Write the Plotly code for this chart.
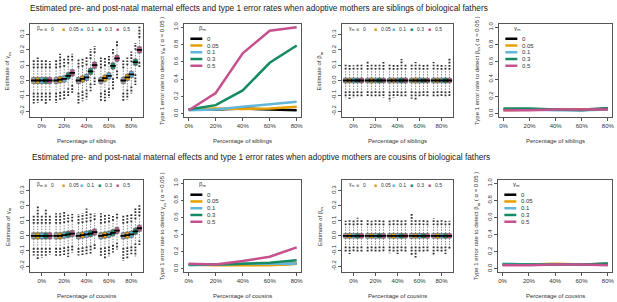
import plotly.graph_objects as go

W, H = 617, 302

groups = ["0%", "20%", "40%", "60%", "80%"]
levels = ["0", "0.05", "0.1", "0.3", "0.5"]
box_colors = ["#A5A5A5", "#E69F00", "#62B6DA", "#158A63", "#C5528F"]
line_colors = ["#000000", "#E69F00", "#62B6DA", "#158A63", "#C5528F"]

# ---------- Box-plot summaries: rows = series (beta/gamma level), cols = groups ----------
# Siblings, estimate of gamma_m
sib_g_med = [[0.000, 0.000, 0.000, 0.000, 0.000],
             [0.000, 0.005, 0.010, 0.015, 0.020],
             [0.000, 0.010, 0.020, 0.030, 0.040],
             [0.000, 0.030, 0.060, 0.095, 0.120],
             [0.000, 0.050, 0.100, 0.145, 0.200]]
sib_g_q1 = [[-0.020, -0.020, -0.020, -0.020, -0.020],
            [-0.020, -0.015, -0.010, -0.005, 0.000],
            [-0.020, -0.010, 0.000, 0.010, 0.020],
            [-0.020, 0.010, 0.040, 0.075, 0.100],
            [-0.020, 0.030, 0.080, 0.125, 0.180]]
sib_g_q3 = [[0.020, 0.020, 0.020, 0.020, 0.020],
            [0.020, 0.025, 0.030, 0.035, 0.040],
            [0.020, 0.030, 0.040, 0.050, 0.060],
            [0.020, 0.050, 0.080, 0.115, 0.140],
            [0.020, 0.070, 0.120, 0.165, 0.220]]
sib_g_whi = [[0.080, 0.080, 0.085, 0.080, 0.080],
             [0.080, 0.085, 0.090, 0.095, 0.100],
             [0.080, 0.090, 0.100, 0.110, 0.120],
             [0.080, 0.110, 0.140, 0.175, 0.200],
             [0.080, 0.130, 0.180, 0.225, 0.280]]
sib_g_wlo = [[-0.080, -0.080, -0.080, -0.080, -0.080],
             [-0.080, -0.075, -0.070, -0.065, -0.060],
             [-0.080, -0.070, -0.060, -0.050, -0.040],
             [-0.080, -0.050, -0.020, 0.015, 0.040],
             [-0.080, -0.030, 0.020, 0.065, 0.120]]
sib_g_ohi = [[0.135, 0.140, 0.145, 0.150, 0.130],
             [0.150, 0.175, 0.145, 0.150, 0.150],
             [0.140, 0.150, 0.155, 0.160, 0.190],
             [0.135, 0.170, 0.205, 0.210, 0.245],
             [0.125, 0.175, 0.225, 0.265, 0.355]]
sib_g_olo = [[-0.150, -0.145, -0.150, -0.140, -0.140],
             [-0.145, -0.135, -0.135, -0.135, -0.125],
             [-0.135, -0.125, -0.125, -0.115, -0.085],
             [-0.160, -0.110, -0.070, -0.060, -0.030],
             [-0.130, -0.080, -0.030, 0.010, 0.085]]

# Siblings, estimate of beta_m
sib_b_med = [[0.000, 0.000, 0.000, 0.000, 0.000],
             [0.000, 0.000, 0.000, 0.000, 0.000],
             [0.000, 0.000, 0.000, 0.000, 0.000],
             [0.000, 0.000, 0.000, 0.000, 0.000],
             [0.000, 0.000, 0.000, 0.000, 0.000]]
sib_b_q1 = [[-0.016, -0.015, -0.016, -0.015, -0.016],
            [-0.015, -0.016, -0.015, -0.016, -0.015],
            [-0.016, -0.015, -0.015, -0.016, -0.015],
            [-0.015, -0.016, -0.016, -0.015, -0.016],
            [-0.016, -0.015, -0.016, -0.015, -0.015]]
sib_b_q3 = [[0.016, 0.015, 0.016, 0.015, 0.016],
            [0.015, 0.016, 0.015, 0.016, 0.015],
            [0.016, 0.015, 0.015, 0.016, 0.015],
            [0.015, 0.016, 0.016, 0.015, 0.016],
            [0.016, 0.015, 0.016, 0.015, 0.015]]
sib_b_whi = [[0.072, 0.070, 0.072, 0.071, 0.072],
             [0.070, 0.072, 0.070, 0.072, 0.071],
             [0.072, 0.071, 0.070, 0.072, 0.070],
             [0.071, 0.072, 0.072, 0.070, 0.072],
             [0.072, 0.070, 0.071, 0.071, 0.070]]
sib_b_wlo = [[-0.072, -0.070, -0.072, -0.071, -0.072],
             [-0.070, -0.072, -0.070, -0.072, -0.071],
             [-0.072, -0.071, -0.070, -0.072, -0.070],
             [-0.071, -0.072, -0.072, -0.070, -0.072],
             [-0.072, -0.070, -0.071, -0.071, -0.070]]
sib_b_ohi = [[0.105, 0.125, 0.110, 0.110, 0.120],
             [0.110, 0.105, 0.105, 0.120, 0.110],
             [0.100, 0.110, 0.110, 0.110, 0.105],
             [0.110, 0.105, 0.140, 0.105, 0.100],
             [0.110, 0.120, 0.110, 0.105, 0.145]]
sib_b_olo = [[-0.115, -0.110, -0.135, -0.120, -0.110],
             [-0.130, -0.110, -0.115, -0.125, -0.105],
             [-0.115, -0.110, -0.110, -0.110, -0.110],
             [-0.110, -0.110, -0.110, -0.110, -0.105],
             [-0.110, -0.115, -0.110, -0.105, -0.105]]

# Cousins, estimate of gamma_m
cou_g_med = [[0.000, 0.000, 0.000, 0.000, 0.000],
             [0.000, 0.000, 0.005, 0.005, 0.005],
             [0.000, 0.005, 0.010, 0.010, 0.010],
             [0.000, 0.010, 0.015, 0.020, 0.030],
             [0.000, 0.015, 0.025, 0.035, 0.050]]
cou_g_q1 = [[-0.020, -0.020, -0.020, -0.020, -0.020],
            [-0.020, -0.020, -0.015, -0.015, -0.015],
            [-0.020, -0.015, -0.010, -0.010, -0.010],
            [-0.020, -0.010, -0.005, 0.000, 0.010],
            [-0.020, -0.005, 0.005, 0.015, 0.030]]
cou_g_q3 = [[0.020, 0.020, 0.020, 0.020, 0.020],
            [0.020, 0.020, 0.025, 0.025, 0.025],
            [0.020, 0.025, 0.030, 0.030, 0.030],
            [0.020, 0.030, 0.035, 0.040, 0.050],
            [0.020, 0.035, 0.045, 0.055, 0.070]]
cou_g_whi = [[0.080, 0.080, 0.080, 0.080, 0.080],
             [0.080, 0.080, 0.085, 0.085, 0.085],
             [0.080, 0.085, 0.090, 0.090, 0.090],
             [0.080, 0.090, 0.095, 0.100, 0.110],
             [0.080, 0.095, 0.105, 0.115, 0.130]]
cou_g_wlo = [[-0.080, -0.080, -0.080, -0.080, -0.080],
             [-0.080, -0.080, -0.075, -0.075, -0.075],
             [-0.080, -0.075, -0.070, -0.070, -0.070],
             [-0.080, -0.070, -0.065, -0.060, -0.050],
             [-0.080, -0.065, -0.055, -0.045, -0.030]]
cou_g_ohi = [[0.140, 0.150, 0.145, 0.150, 0.140],
             [0.195, 0.150, 0.150, 0.140, 0.140],
             [0.140, 0.165, 0.180, 0.140, 0.150],
             [0.175, 0.140, 0.150, 0.140, 0.180],
             [0.140, 0.145, 0.150, 0.150, 0.205]]
cou_g_olo = [[-0.130, -0.135, -0.130, -0.140, -0.165],
             [-0.155, -0.135, -0.135, -0.150, -0.150],
             [-0.145, -0.130, -0.130, -0.135, -0.130],
             [-0.140, -0.140, -0.125, -0.110, -0.135],
             [-0.125, -0.110, -0.095, -0.090, -0.060]]

# Cousins, estimate of beta_m
cou_b_med = [[0.000, 0.000, 0.000, 0.000, 0.000],
             [0.000, 0.000, 0.000, 0.000, 0.000],
             [0.000, 0.000, 0.000, 0.000, 0.000],
             [0.000, 0.000, 0.000, 0.000, 0.000],
             [0.000, 0.000, 0.000, 0.000, 0.000]]
cou_b_q1 = [[-0.015, -0.016, -0.015, -0.016, -0.015],
            [-0.016, -0.015, -0.016, -0.015, -0.016],
            [-0.015, -0.016, -0.015, -0.016, -0.015],
            [-0.016, -0.015, -0.016, -0.015, -0.016],
            [-0.015, -0.016, -0.015, -0.016, -0.015]]
cou_b_q3 = [[0.015, 0.016, 0.015, 0.016, 0.015],
            [0.016, 0.015, 0.016, 0.015, 0.016],
            [0.015, 0.016, 0.015, 0.016, 0.015],
            [0.016, 0.015, 0.016, 0.015, 0.016],
            [0.015, 0.016, 0.015, 0.016, 0.015]]
cou_b_whi = [[0.071, 0.072, 0.070, 0.072, 0.071],
             [0.072, 0.070, 0.072, 0.071, 0.070],
             [0.070, 0.072, 0.071, 0.072, 0.072],
             [0.072, 0.071, 0.070, 0.071, 0.070],
             [0.071, 0.070, 0.072, 0.070, 0.072]]
cou_b_wlo = [[-0.071, -0.072, -0.070, -0.072, -0.071],
             [-0.072, -0.070, -0.072, -0.071, -0.070],
             [-0.070, -0.072, -0.071, -0.072, -0.072],
             [-0.072, -0.071, -0.070, -0.071, -0.070],
             [-0.071, -0.070, -0.072, -0.070, -0.072]]
cou_b_ohi = [[0.100, 0.105, 0.110, 0.150, 0.115],
             [0.110, 0.100, 0.110, 0.110, 0.105],
             [0.110, 0.105, 0.105, 0.105, 0.110],
             [0.120, 0.110, 0.110, 0.110, 0.100],
             [0.110, 0.110, 0.110, 0.110, 0.100]]
cou_b_olo = [[-0.110, -0.105, -0.115, -0.125, -0.130],
             [-0.120, -0.110, -0.110, -0.145, -0.110],
             [-0.110, -0.110, -0.120, -0.110, -0.105],
             [-0.110, -0.105, -0.110, -0.110, -0.120],
             [-0.105, -0.110, -0.105, -0.110, -0.085]]

# ---------- Type 1 error rates ----------
sib_g_err = [[0.05, 0.05, 0.06, 0.05, 0.04],
             [0.05, 0.06, 0.055, 0.06, 0.08],
             [0.04, 0.05, 0.08, 0.11, 0.14],
             [0.05, 0.10, 0.27, 0.59, 0.79],
             [0.04, 0.24, 0.70, 0.96, 1.00]]
sib_b_err = [[0.05, 0.05, 0.05, 0.05, 0.06],
             [0.04, 0.05, 0.05, 0.05, 0.05],
             [0.05, 0.05, 0.04, 0.04, 0.05],
             [0.06, 0.06, 0.05, 0.04, 0.06],
             [0.04, 0.04, 0.05, 0.05, 0.05]]
cou_g_err = [[0.05, 0.05, 0.05, 0.05, 0.06],
             [0.05, 0.04, 0.04, 0.04, 0.06],
             [0.04, 0.05, 0.06, 0.06, 0.06],
             [0.05, 0.05, 0.06, 0.07, 0.10],
             [0.06, 0.05, 0.09, 0.14, 0.25]]
cou_b_err = [[0.05, 0.05, 0.05, 0.05, 0.06],
             [0.05, 0.05, 0.06, 0.05, 0.05],
             [0.06, 0.05, 0.05, 0.05, 0.05],
             [0.05, 0.05, 0.05, 0.05, 0.06],
             [0.04, 0.04, 0.05, 0.05, 0.04]]

box_yticks = [-0.2, -0.1, 0.0, 0.1, 0.2, 0.3]
err_yticks = [0.0, 0.2, 0.4, 0.6, 0.8, 1.0]

FONT = "Liberation Sans, Arial, sans-serif"
fig = go.Figure()

# Panel frames in pixels: (left, right, top, bottom)
frames = {
    1: (30, 143, 22, 116), 2: (185, 302, 22, 116), 3: (343, 454, 22, 116), 4: (501, 614, 22, 116),
    5: (30, 143, 179, 272), 6: (185, 302, 179, 272), 7: (343, 454, 179, 272), 8: (500, 614, 179, 272),
}
offsets = [-0.36, -0.18, 0.0, 0.18, 0.36]


def axnames(i):
    return ("x" if i == 1 else f"x{i}"), ("y" if i == 1 else f"y{i}")


def add_box_panel(i, med, q1, q3, wlo, whi, olo, ohi):
    xa, ya = axnames(i)
    for s in range(5):
        pos = [g + offsets[s] for g in range(5)]
        wx, wy, ox, oy = [], [], [], []
        for g in range(5):
            wx += [pos[g], pos[g], None, pos[g], pos[g], None]
            wy += [q3[s][g], whi[s][g], None, q1[s][g], wlo[s][g], None]
            ox += [pos[g], pos[g], None, pos[g], pos[g], None]
            oy += [whi[s][g], ohi[s][g], None, wlo[s][g], olo[s][g], None]
        fig.add_trace(go.Scatter(x=wx, y=wy, mode="lines", xaxis=xa, yaxis=ya,
                                 line=dict(color="#6a6a6a", width=0.8, dash="1.5px,1.2px"),
                                 showlegend=False, hoverinfo="skip"))
        fig.add_trace(go.Scatter(x=ox, y=oy, mode="lines", xaxis=xa, yaxis=ya,
                                 line=dict(color="#2e2e2e", width=1.9, dash="1.7px,1.4px"),
                                 showlegend=False, hoverinfo="skip"))
        fig.add_trace(go.Box(x=pos, q1=q1[s], median=med[s], q3=q3[s],
                             lowerfence=q1[s], upperfence=q3[s], width=0.18,
                             fillcolor=box_colors[s], line=dict(color="#666666", width=0.6),
                             boxpoints=False, xaxis=xa, yaxis=ya,
                             showlegend=False))
        fig.add_trace(go.Scatter(x=pos, y=med[s], mode="markers", xaxis=xa, yaxis=ya,
                                 marker=dict(symbol="line-ew", size=4,
                                             line=dict(color="#000000", width=1.8)),
                                 showlegend=False, hoverinfo="skip"))


def add_err_panel(i, err):
    xa, ya = axnames(i)
    for s in range(5):
        fig.add_trace(go.Scatter(x=list(range(5)), y=err[s], mode="lines", xaxis=xa, yaxis=ya,
                                 line=dict(color=line_colors[s], width=2.5),
                                 showlegend=False))


add_box_panel(1, sib_g_med, sib_g_q1, sib_g_q3, sib_g_wlo, sib_g_whi, sib_g_olo, sib_g_ohi)
add_err_panel(2, sib_g_err)
add_box_panel(3, sib_b_med, sib_b_q1, sib_b_q3, sib_b_wlo, sib_b_whi, sib_b_olo, sib_b_ohi)
add_err_panel(4, sib_b_err)
add_box_panel(5, cou_g_med, cou_g_q1, cou_g_q3, cou_g_wlo, cou_g_whi, cou_g_olo, cou_g_ohi)
add_err_panel(6, cou_g_err)
add_box_panel(7, cou_b_med, cou_b_q1, cou_b_q3, cou_b_wlo, cou_b_whi, cou_b_olo, cou_b_ohi)
add_err_panel(8, cou_b_err)

layout = dict(width=W, height=H, margin=dict(l=0, r=0, t=0, b=0),
              paper_bgcolor="white", plot_bgcolor="white",
              font=dict(family=FONT, size=6, color="#333333"), showlegend=False)

annotations = []
shapes = []

def px_x(v):
    return v / W

def px_y(v):
    return 1 - v / H

for i, (l, r, t, b) in frames.items():
    is_box = i in (1, 3, 5, 7)
    xk = "xaxis" if i == 1 else f"xaxis{i}"
    yk = "yaxis" if i == 1 else f"yaxis{i}"
    common = dict(showline=True, mirror=True, linecolor="#555555", linewidth=0.8,
                  ticks="outside", ticklen=3, tickwidth=0.6, tickcolor="#555555",
                  showgrid=False, zeroline=False, tickfont=dict(size=6, color="#333333"))
    layout[xk] = dict(domain=[l / W, r / W], anchor=("y" if i == 1 else f"y{i}"),
                      tickmode="array", tickvals=list(range(5)), ticktext=groups,
                      range=[-0.53, 4.5] if is_box else [-0.16, 4.16], **common)
    layout[yk] = dict(domain=[1 - b / H, 1 - t / H], anchor=("x" if i == 1 else f"x{i}"),
                      tickmode="array",
                      tickvals=box_yticks if is_box else err_yticks,
                      ticktext=[f"{v:.1f}" for v in (box_yticks if is_box else err_yticks)],
                      range=[-0.24, 0.37] if is_box else [-0.04, 1.04],
                      tickangle=-90, **common)

    top_row = i <= 4
    sym = "γ" if i in (1, 2, 5, 6) else "β"
    other = "β" if sym == "γ" else "γ"
    if is_box:
        ytitle = f"Estimate of {sym}<sub>m</sub>"
    else:
        ytitle = f"Type 1 error rate to detect {sym}<sub>m</sub> ( α = 0.05 )"
    annotations.append(dict(x=px_x(l - 22), y=px_y((t + b) / 2), xref="paper", yref="paper",
                            text=ytitle, textangle=-90, showarrow=False,
                            font=dict(size=6, color="#333333"), xanchor="center", yanchor="middle"))
    annotations.append(dict(x=px_x((l + r) / 2), y=px_y(b + 24), xref="paper", yref="paper",
                            text="Percentage of siblings" if top_row else "Percentage of cousins",
                            showarrow=False, font=dict(size=6, color="#333333"),
                            xanchor="center", yanchor="middle"))
    if is_box:
        ly = px_y(t + 5)
        annotations.append(dict(x=px_x(l + 5), y=ly, xref="paper", yref="paper",
                                text=f"{other}<sub>m</sub>", showarrow=False,
                                font=dict(size=5, color="#333333"), xanchor="left", yanchor="middle"))
        for k in range(5):
            x0 = l + 16 + k * 18
            annotations.append(dict(x=px_x(x0), y=ly, xref="paper", yref="paper",
                                    text="■", showarrow=False,
                                    font=dict(size=5, color=box_colors[k]),
                                    xanchor="center", yanchor="middle"))
            annotations.append(dict(x=px_x(x0 + 3), y=ly, xref="paper", yref="paper",
                                    text=levels[k], showarrow=False,
                                    font=dict(size=5, color="#333333"),
                                    xanchor="left", yanchor="middle"))
    else:
        annotations.append(dict(x=px_x(l + 13), y=px_y(t + 5), xref="paper", yref="paper",
                                text=f"{other}<sub>m</sub>", showarrow=False,
                                font=dict(size=6, color="#333333"), xanchor="left", yanchor="middle"))
        for k in range(5):
            yy = t + 15 + k * 6.8
            shapes.append(dict(type="line", xref="paper", yref="paper",
                               x0=px_x(l + 6), x1=px_x(l + 18), y0=px_y(yy), y1=px_y(yy),
                               line=dict(color=line_colors[k], width=2.5)))
            annotations.append(dict(x=px_x(l + 21), y=px_y(yy), xref="paper", yref="paper",
                                    text=levels[k], showarrow=False,
                                    font=dict(size=6, color="#333333"),
                                    xanchor="left", yanchor="middle"))

annotations.append(dict(x=px_x(28), y=px_y(6), xref="paper", yref="paper",
                        text="Estimated pre- and post-natal maternal effects and type 1 error rates when adoptive mothers are siblings of biological fathers",
                        showarrow=False, font=dict(size=8.3, color="#222222"), xanchor="left", yanchor="middle"))
annotations.append(dict(x=px_x(30), y=px_y(156), xref="paper", yref="paper",
                        text="Estimated pre- and post-natal maternal effects and type 1 error rates when adoptive mothers are cousins of biological fathers",
                        showarrow=False, font=dict(size=8.3, color="#222222"), xanchor="left", yanchor="middle"))

layout["annotations"] = annotations
layout["shapes"] = shapes
fig.update_layout(**layout)
fig.write_html("out.html", config={"displayModeBar": False},
               post_script="document.body.style.margin='0px';document.body.style.overflow='hidden';")
